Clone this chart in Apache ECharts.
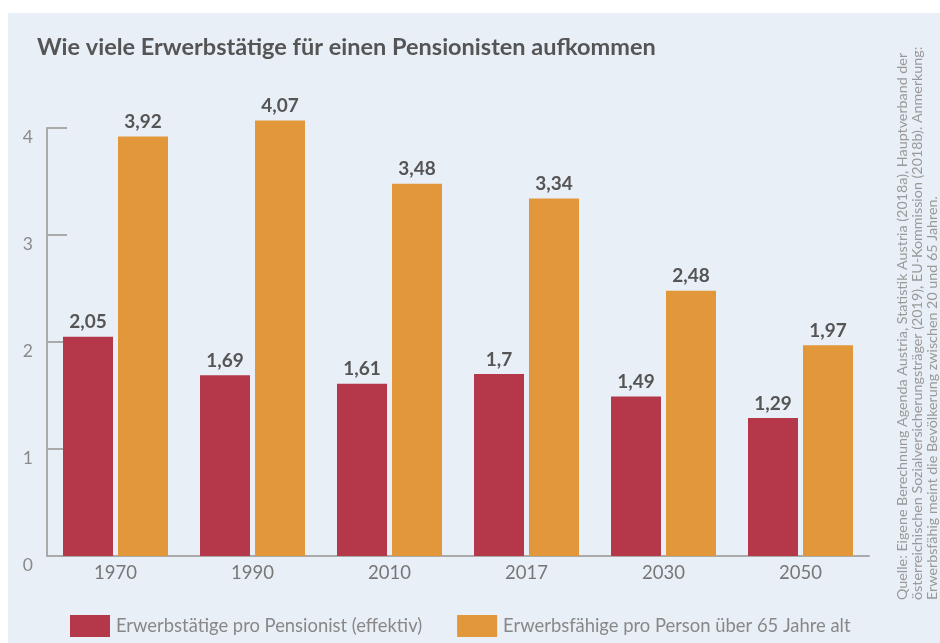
<!DOCTYPE html>
<html>
<head>
<meta charset="utf-8">
<script src="https://cdn.jsdelivr.net/npm/echarts@6/dist/echarts.min.js"></script>
<style>
  html, body { margin: 0; padding: 0; background: #fff; }
  #panel { position: absolute; left: 8px; top: 13px; width: 932px; height: 630px; background: #e9eff7; }
  #chart { position: absolute; left: 0; top: 0; width: 940px; height: 643px; }
</style>
</head>
<body>
<div id="panel"></div>
<div id="chart"></div>
<script>
const years = ["1970", "1990", "2010", "2017", "2030", "2050"]
const effektiv = [2.05, 1.69, 1.61, 1.7, 1.49, 1.29]
const erwerbsfaehig = [3.92, 4.07, 3.48, 3.34, 2.48, 1.97]
const seriesNames = ["Erwerbstätige pro Pensionist (effektiv)", "Erwerbsfähige pro Person über 65 Jahre alt"]
const sourceLines = [
  "Quelle: Eigene Berechnung Agenda Austria, Statistik Austria (2018a), Hauptverband der",
  "österreichischen Sozialversicherungsträger (2019), EU-Kommission (2018b). Anmerkung:",
  "Erwerbsfähig meint die Bevölkerung zwischen 20 und 65 Jahren."
]

const font = "Lato, 'Noto Sans', sans-serif"
const chart = echarts.init(document.getElementById("chart"))

const barLabel = {
  show: true,
  position: "top",
  distance: 5,
  color: "#555",
  fontWeight: "bold",
  fontSize: 19,
  fontFamily: font,
  formatter: p => String(p.value).replace(".", ",")
}

const option = {
  backgroundColor: "transparent",
  animation: false,
  title: {
    text: "Wie viele Erwerbstätige für einen Pensionisten aufkommen",
    left: 32,
    top: 30,
    textStyle: { color: "#555", fontSize: 23.5, fontWeight: "bold", fontFamily: font }
  },
  legend: {
    left: 65,
    top: 610,
    itemWidth: 40,
    itemHeight: 22,
    itemGap: 35,
    icon: "rect",
    textStyle: { color: "#888", fontSize: 18.4, fontFamily: font, padding: [0, 0, 0, 1] },
    data: seriesNames
  },
  grid: { left: 47, right: 71, top: 128, bottom: 87 },
  xAxis: {
    type: "category",
    data: years,
    axisLine: { lineStyle: { color: "#aaa", width: 2 } },
    axisTick: { inside: true, length: 10, lineStyle: { color: "#aaa", width: 2 } },
    axisLabel: { color: "#777", fontSize: 18.5, fontFamily: font, margin: 8 }
  },
  yAxis: {
    type: "value",
    min: 0,
    max: 4,
    interval: 1,
    splitLine: { show: false },
    axisLine: { show: true, lineStyle: { color: "#aaa", width: 2 } },
    axisTick: { show: true, inside: true, length: 20, lineStyle: { color: "#aaa", width: 2 } },
    axisLabel: { color: "#8a8a8a", fontSize: 17.5, fontFamily: font, margin: 14, verticalAlign: "top" }
  },
  color: ["#b5384a", "#e2973a"],
  series: [
    { name: seriesNames[0], type: "bar", data: effektiv, barWidth: 50, barGap: "10%", clip: false, label: barLabel },
    { name: seriesNames[1], type: "bar", data: erwerbsfaehig, barWidth: 50, barGap: "10%", clip: false, label: barLabel }
  ],
  graphic: sourceLines.map((line, i) => ({
    type: "text",
    x: 902 + i * 15,
    y: 600,
    rotation: Math.PI / 2,
    style: { text: line, fill: "#999", fontSize: 14.3, fontFamily: font, textVerticalAlign: "middle" }
  }))
}

chart.setOption(option)
</script>
</body>
</html>
